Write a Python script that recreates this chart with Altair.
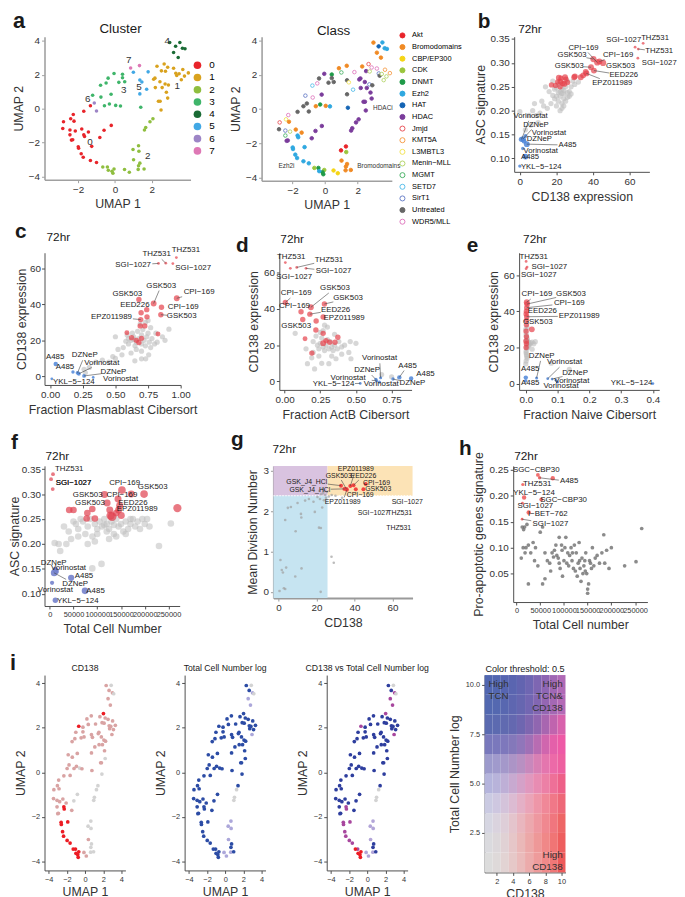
import math
import altair as alt
import pandas as pd

FONT = "Liberation Sans"
INK = "#1a1a1a"
AXC = "#4d4d4d"

# ================= panel a / i : UMAP embedding, grouped by cluster =================
c0_u1 = [-2.26, -1.69, -1.33, -2.79, -2.83, -2.40, -2.22, -2.44, -2.15, -2.44, -1.80, -1.69, -1.44,
         -1.65, -2.36, -2.29, -1.99, -1.97, -1.83, -1.72, -1.26, -1.33, -1.00, -0.82, -0.59, -0.20]
c0_u2 = [-0.35, -0.16, 0.17, -0.78, -1.18, -0.60, -0.74, -1.26, -1.32, -1.55, -1.20, -1.55, -1.38,
         -1.65, -1.86, -1.84, -2.25, -2.34, -2.67, -2.87, -2.23, -3.06, -3.18, -1.71, -1.28, -0.99]
c0_cls = ["WDR5/MLL", "Untreated", "Untreated", "Jmjd", "Untreated", "L3MBTL3", "Bromodomains", "SirT1",
          "Menin−MLL", "MGMT", "Bromodomains", "Ezh2", "Bromodomains", "Ezh2", "HDAC", "HDAC", "Ezh2", "Ezh2",
          "Ezh2", "Ezh2", "Ezh2", "Ezh2", "Ezh2", "HDAC", "HDAC", "HDAC"]
c0_i1 = "ppppppppppprprpprrrrrrrpgg"
c0_i2 = "bbbbbbbbbbbbbbbbbbbbbbbbbb"
c0_i3 = "bbbbbbbbbbbmbmbbmmmmmmmbbb"

c1_u1 = [2.28, 2.67, 2.86, 2.52, 2.74, 2.17, 2.10, 2.44, 2.72, 2.56, 2.79, 2.86, 2.36, 2.45, 2.50, 3.30,
         3.35, 3.48, 3.68, 3.98, 3.77, 3.60, 3.18, 2.19, 2.90]
c1_u2 = [2.50, 2.64, 2.44, 2.23, 2.21, 1.80, 1.74, 1.59, 1.45, 1.24, 0.97, 0.62, 0.43, 0.43, -0.08, 2.09,
         1.96, 2.06, 2.31, 2.11, 1.92, 1.70, 2.38, 1.24, 1.40]
c1_cls = ["Bromodomains", "Jmjd", "WDR5/MLL", "HDAC", "Menin−MLL", "HDAC", "HDAC", "HDAC", "SirT1", "HDAC",
          "HDAC", "HDAC", "HDAC", "HDAC", "HDAC", "SirT1", "Untreated", "Menin−MLL", "KMT5A", "KMT5A",
          "Menin−MLL", "Menin−MLL", "WDR5/MLL", "HDAC", "Untreated"]
c1_i1 = "prpppppppppgppgpppppppppp"
c1_i2 = "bbbbbbbbbbbbbbbbbbbbblbbb"
c1_i3 = "bmbbbbbbbbbbbbbbbbbbbmbbb"

c2_u1 = [2.06, 1.90, 1.67, 1.60, 0.98, 1.28, 1.30, 1.01, 1.28, 1.35, 1.26, 1.58, 0.52, 0.78, -0.05, -0.16,
         -0.41, -0.66, -0.36, -0.11]
c2_u2 = [-0.60, -0.78, -1.12, -1.26, -2.42, -2.19, -2.52, -3.02, -3.37, -3.22, -3.59, -3.57, -3.60, -3.76,
         -3.57, -3.70, -3.45, -3.45, -3.64, -3.82]
c2_cls = ["HDAC", "HDAC", "HDAC", "HDAC", "Akt", "Akt", "CDK", "Bromodomains", "Bromodomains", "Bromodomains",
          "Bromodomains", "Bromodomains", "CBP/EP300", "CBP/EP300", "CDK", "DNMT", "DNMT", "CDK", "Ezh2", "DNMT"]
c2_i1 = "gggggggpggggpprrrrrr"
c2_i2 = "bgggllllbblbllbbbbbb"
c2_i3 = "bgggllllbblbllrrmrrr"

c3_u1 = [-1.21, -0.78, -0.48, -0.37, -0.05, 0.41, 0.41, 0.21, 0.53, -0.21, -0.76, -0.57, -0.30, 0.04, 0.30, 1.40]
c3_u2 = [0.79, 1.38, 1.51, 1.80, 2.07, 2.03, 1.82, 1.55, 1.59, 0.85, 0.68, 0.17, 0.27, 0.19, 0.16, 0.08]
c3_cls = ["SirT1", "SETD7", "WDR5/MLL", "Untreated", "HDAC", "DNMT", "Untreated", "Untreated", "Untreated",
          "HDAC", "WDR5/MLL", "Bromodomains", "DNMT", "Bromodomains", "Ezh2", "HAT"]
c3_i1 = "pppprppppppppgpp"
c3_i2 = "bbbbbbbbbbbbbbbb"
c3_i3 = "bbbbmbbbbbbbbbbb"

c4_u1 = [2.97, 3.52, 3.29, 3.66, 3.80, 3.43, 3.18]
c4_u2 = [3.90, 3.91, 3.68, 3.57, 3.53, 3.02, 3.31]
c4_cls = ["Bromodomains", "Ezh2", "HAT", "Ezh2", "Ezh2", "Bromodomains", "Bromodomains"]
c4_i1 = "pgppgpp"
c4_i2 = "bgblgll"
c4_i3 = "bgbmgmm"

c5_u1 = [1.00, 1.80, 1.35, 1.46, 1.72, 1.35]
c5_u2 = [2.15, 2.17, 1.69, 1.57, 1.14, 0.87]
c5_cls = ["MGMT", "WDR5/MLL", "Untreated", "L3MBTL3", "SETD7", "Untreated"]
c5_i1 = "pppppp"
c5_i2 = "bbbbbb"
c5_i3 = "bbbbbb"

c6_u1 = [-1.12, -1.00]
c6_u2 = [0.33, -0.14]
c6_cls = ["Untreated", "Untreated"]
c6_i1, c6_i2, c6_i3 = "pp", "bb", "bb"

c7_u1 = [0.85, 1.33]
c7_u2 = [2.40, 2.54]
c7_cls = ["Bromodomains", "Bromodomains"]
c7_i1, c7_i2, c7_i3 = "pp", "bb", "bb"

CLUSTER_IDS = ["0", "1", "2", "3", "4", "5", "6", "7"]
CLUSTER_COLORS = ["#E8242A", "#D9A21E", "#8FBE3F", "#3FB56A", "#1A6B35", "#41A8E5", "#9D85C6", "#DE78B5"]
CLUSTER_LABEL_POS = [(-1.35, -2.0), (3.38, 1.34), (1.78, -2.79), (0.48, 1.10), (2.84, 3.97),
                     (1.30, 1.30), (-1.48, 0.56), (0.75, 2.87)]

CLASSES = ["Akt", "Bromodomains", "CBP/EP300", "CDK", "DNMT", "Ezh2", "HAT", "HDAC", "Jmjd", "KMT5A",
           "L3MBTL3", "Menin−MLL", "MGMT", "SETD7", "SirT1", "Untreated", "WDR5/MLL"]
CLASS_COLORS = ["#E8242A", "#F08A24", "#F5D515", "#9AC53C", "#1F9A48", "#2FA8E0", "#1464B4", "#7A3C9B",
                "#E8545A", "#F59E4C", "#F2E45A", "#B4D46A", "#4DB46A", "#59BEEA", "#6A80C8", "#666666", "#E07CC0"]
CLASS_OPEN = [False, False, False, False, False, False, False, False, True, True, True, True, True, True,
              True, False, True]
CLASS_NOTES = [("HDACi", 3.55, 0.08), ("Ezh2i", -2.37, -3.35), ("Bromodomains", 3.30, -3.31)]

I1_COL = {"r": "#EC1C24", "p": "#D9A3A3", "g": "#D3D3D3"}
I2_COL = {"b": "#2C4CA5", "l": "#ACA7DA", "g": "#D3D3D3"}
I3_COL = {"b": "#2E3E9E", "m": "#A8479E", "r": "#EC1C24", "l": "#B2A5D8", "g": "#D3D3D3"}
I_SHIFT = 0.65  # panel i embedding sits 0.65 UMAP-1 units left of panel a

# heatmap colours (rows: Total Cell Number log level 1 -> 10; columns CD138 level 1 -> 10)
HM_ROWS = [
    ["#DCDCDC", "#DED9D9", "#E2D3D3", "#E6C8C8", "#EABBBB", "#ECABAB", "#EE9B9B", "#F08A8A", "#F07777", "#EE5A5A"],
    ["#DADADE", "#DCD7DA", "#E0D1D4", "#E6C6C8", "#EAB8B8", "#ECA8A8", "#EE9898", "#F08888", "#F07575", "#EE5E5E"],
    ["#D6D6E2", "#DAD3DE", "#DECED8", "#E4C4CC", "#E9B6BE", "#ECA8AE", "#EE98A0", "#F08890", "#F0767E", "#EE6666"],
    ["#CACAE2", "#CEC7E0", "#D4C3DA", "#DCBBD2", "#E4B0C6", "#EAA4B8", "#EE96A8", "#F08898", "#F07888", "#EE6878"],
    ["#B4B4DC", "#B8B3DA", "#BEAFD6", "#C8A9D0", "#D4A1C8", "#E098BE", "#E88CB2", "#EC80A6", "#EE7098", "#EE6088"],
    ["#9C9ACC", "#A09ACC", "#A498CA", "#AC94C6", "#B890C2", "#C888BC", "#D880B4", "#E476AE", "#EC6AA8", "#EE60A0"],
    ["#7878BC", "#7A78BC", "#7E78BC", "#8478BA", "#9076BA", "#A070B6", "#B86CB2", "#D066AE", "#E460AA", "#EE5AA6"],
    ["#5A6AB0", "#5C6AB0", "#606AB0", "#6468B0", "#6E66B0", "#7E66B0", "#9066B0", "#A866B0", "#C064AE", "#D862AC"],
    ["#5268B0", "#5468B0", "#5867B0", "#5E66B0", "#6666B0", "#7266B2", "#8266B2", "#9466B3", "#A468B4", "#B46AB6"],
    ["#5066B0", "#5266B0", "#5665B0", "#5A65B0", "#6264B0", "#6E66B2", "#7E66B2", "#8E66B3", "#A068B4", "#B06AB6"],
]
HM_NOTES = [("High\nTCN", 0.98, 10.27, "left"), ("High\nTCN&\nCD138", 10.17, 10.27, "right"),
            ("High\nCD138", 10.17, 1.63, "right")]

# ================= panel b : CD138 expression vs ASC signature =================
b_gray = [(22, .240), (24, .235), (20, .230), (25, .250), (21, .220), (23, .215), (26, .228), (19, .245),
          (18, .232), (27, .240), (28, .250), (30, .255), (17, .215), (15, .205), (13, .210), (11, .195),
          (9, .190), (7, .200), (5, .190), (23, .205), (24, .210), (22, .200), (20, .210), (16, .240),
          (14, .250), (32, .260), (26, .262), (21, .255), (25, .220), (27, .230), (19, .225), (23, .245),
          (24, .225), (22, .230), (28, .235), (12, .220), (10, .175), (3, .160), (6, .170), (8, .215),
          (0, .198), (18, .262), (20, .248), (24, .243), (26, .238), (29, .262), (21, .238), (23, .236)]
b_hl = [(67.4, .341, "r", 8), (64.7, .329, "r", 8), (64.5, .310, "r", 8), (63.0, .333, "r", 8),
        (40.2, .308, "r", 40), (42.3, .301, "r", 40), (45.5, .300, "r", 40), (43.5, .303, "r", 35),
        (38.9, .291, "r", 35), (40.5, .284, "r", 35), (36.4, .278, "r", 35),
        (24.7, .270, "r", 35), (25.2, .266, "r", 30), (21.3, .269, "r", 35), (22.5, .268, "r", 30),
        (22.2, .261, "r", 35), (23.4, .257, "r", 30), (24.3, .256, "r", 35), (17.3, .254, "r", 30),
        (19.5, .253, "r", 30), (20.7, .260, "r", 30), (29.7, .270, "r", 35), (30.1, .272, "r", 35),
        (33.3, .270, "r", 35), (34.6, .274, "r", 35), (36.0, .281, "r", 35), (26.1, .259, "r", 30),
        (22.0, .250, "r", 30),
        (0.9, .140, "b", 30), (1.8, .141, "b", 30), (3.1, .147, "b", 15), (2.3, .136, "b", 25),
        (3.8, .130, "b", 35), (1.6, .121, "b", 12), (3.1, .104, "b", 35), (0.0, .084, "b", 12)]
b_labels = [("THZ531", 0, 73.9, .353), ("THZ531", 1, 76.2, .324), ("SGI−1027", 3, 56.8, .347),
            ("SGI−1027", 2, 76.2, .300), ("CPI−169", 5, 34.8, .332), ("GSK503", 4, 28.5, .317),
            ("CPI−169", 7, 53.7, .317), ("GSK503", 6, 55.0, .293), ("GSK503", 8, 27.0, .294),
            ("EED226", 9, 56.8, .274), ("EPZ011989", 10, 50.5, .257),
            ("Vorinostat", 28, 5.9, .189), ("DZNeP", 29, 8.8, .171), ("Vorinostat", 30, 15.9, .154),
            ("DZNeP", 31, 10.6, .140), ("A485", 32, 26.1, .128), ("Vorinostat", 33, 11.4, .116),
            ("A485", 34, 5.6, .103), ("YKL−5−124", 35, 11.7, .083)]

# ================= panel c : Fraction Plasmablast vs CD138 =================
c_gray = [(.62, 20), (.64, 22), (.66, 19), (.68, 21), (.70, 23), (.72, 20), (.74, 22), (.65, 17), (.60, 18),
          (.58, 19.5), (.63, 24), (.67, 25), (.70, 18), (.73, 17), (.76, 19), (.78, 21), (.80, 18), (.75, 24),
          (.71, 26), (.69, 29), (.73, 30), (.77, 27), (.82, 19), (.86, 22), (.91, 26.2), (.66, 15), (.70, 14),
          (.62, 13), (.55, 12), (.50, 10), (.45, 8), (.48, 11), (.52, 15), (.56, 16), (.60, 21), (.64, 20.5),
          (.59, 23), (.77, 16), (.81, 24), (.88, 20), (.30, 5), (.35, 8), (.26, 4), (.40, 9), (.75, 31),
          (.50, 22), (.755, 12), (.732, 9.8), (.70, 9.8), (.649, 8.7), (.27, 2)]
c_hl = [(.967, 65.8, "r", 8), (.886, 62.7, "r", 8), (.83, 62.6, "r", 8), (.94, 62.5, "r", 8),
        (.97, 43.3, "r", 35), (.853, 38.3, "r", 30), (.793, 40.4, "r", 35), (.68, 42.6, "r", 30),
        (.848, 34.2, "r", 30), (.74, 37.0, "r", 30), (.694, 31.5, "r", 30),
        (.697, 35.3, "r", 30), (.742, 33.0, "r", 30), (.69, 28, "r", 30), (.725, 28, "r", 30),
        (.588, 24.2, "r", 25), (.624, 21.5, "r", 30), (.70, 21.1, "r", 30), (.68, 18.8, "r", 30),
        (.826, 23.5, "r", 25), (.66, 20, "r", 30),
        (.043, 6.9, "b", 20), (.175, 2.5, "b", 12), (.21, 2.0, "b", 15), (.22, 1.5, "b", 15),
        (.26, 0.3, "b", 15), (.33, -0.5, "b", 8), (.013, -1.3, "b", 8)]
c_labels = [("THZ531", 1, .816, 67.6), ("THZ531", 0, 1.04, 69.9), ("SGI−1027", 2, .636, 61.7),
            ("SGI−1027", 3, 1.096, 60.3), ("GSK503", 6, .851, 50.3), ("CPI−169", 4, 1.141, 46.8),
            ("GSK503", 7, .591, 45.7), ("CPI−169", 5, 1.02, 38.3), ("EED226", 9, .649, 39.3),
            ("GSK503", 8, 1.008, 33.2), ("EPZ011989", 10, .47, 33.0),
            ("A485", 21, .038, 10.7), ("DZNeP", 23, .265, 11.7), ("A485", 22, .114, 5.3),
            ("Vorinostat", 24, .396, 7.7), ("DZNeP", 25, .485, 2.4), ("YKL−5−124", 27, .182, -2.9),
            ("Vorinostat", 26, .54, -1.6)]

# ================= panel d : Fraction ActB vs CD138 =================
d_gray = [(.074, 26.5), (.20, 22), (.23, 20), (.25, 21), (.27, 19), (.29, 20), (.31, 18), (.33, 19), (.35, 20),
          (.30, 23), (.32, 22), (.26, 24), (.24, 18), (.28, 17), (.34, 17), (.37, 18), (.40, 19), (.42, 20),
          (.38, 22), (.22, 25), (.25, 27), (.30, 30), (.28, 31), (.465, 12.5), (.16, 9.8), (.21, 6.9),
          (.31, 9.8), (.36, 12.5), (.26, 10), (.19, 13), (.24, 14), (.33, 14), (.40, 15), (.45, 16),
          (.68, 3.8), (.75, 2.5), (.46, 22), (.50, 21), (.20, 16), (.15, 18), (.35, 26), (.27, 28)]
d_hl = [(.005, 65.6, "r", 8), (.085, 62.9, "r", 8), (.04, 62.4, "r", 8), (.15, 62.4, "r", 8),
        (.005, 43.6, "r", 30), (.115, 38.4, "r", 30), (.184, 40.9, "r", 35), (.279, 42.7, "r", 30),
        (.177, 37.1, "r", 30), (.27, 35.5, "r", 30), (.127, 34.2, "r", 30),
        (.221, 33.3, "r", 30), (.219, 28.4, "r", 30), (.27, 26.5, "r", 30), (.143, 23.5, "r", 25),
        (.373, 24.4, "r", 30), (.27, 21.1, "r", 35), (.316, 21.6, "r", 30), (.353, 21.6, "r", 30),
        (.191, 15.6, "r", 30), (.29, 22.5, "r", 30),
        (.673, 2.0, "b", 10), (.804, 2.2, "b", 20), (.64, 1.0, "b", 12), (.887, 1.6, "b", 20),
        (.645, 0.3, "b", 10), (.76, 1.3, "b", 12), (.53, -1.1, "b", 8), (.665, -0.4, "b", 10)]
d_labels = [("THZ531", 0, .046, 68.9), ("THZ531", 1, .311, 67.1), ("SGI−1027", 2, .067, 57.5),
            ("SGI−1027", 3, .343, 60.7), ("CPI−169", 4, .081, 48.7), ("CPI−169", 5, .069, 41.5),
            ("GSK503", 6, .353, 51.5), ("GSK503", 7, .445, 45.8), ("EED226", 8, .357, 39.5),
            ("EPZ011989", 9, .417, 34.9), ("GSK503", 10, .081, 30.7),
            ("Vorinostat", 21, .666, 12.7), ("A485", 22, .862, 8.7), ("DZNeP", 23, .578, 6.2),
            ("A485", 24, .988, 4.2), ("Vorinostat", 25, .445, 2.0), ("DZNeP", 26, .896, -1.1),
            ("YKL−5−124", 27, .343, -1.5), ("Vorinostat", 28, .677, -1.5)]

# ================= panel e : Fraction Naive vs CD138 =================
e_gray = [(0, 10.9), (.004, 14), (.002, 16), (.001, 18), (.003, 19.5), (.008, 21), (.01, 22), (.02, 23),
          (.03, 23.2), (.015, 22.5), (.005, 24), (.002, 26.5), (.001, 27.5), (.004, 25), (.006, 20),
          (.001, 17), (.003, 21), (.002, 24), (.008, 23), (.012, 21.5), (0, 30), (.004, 31), (.08, 11.3),
          (.137, 7.8), (.02, 19), (.025, 22), (.001, 12.5), (.003, 15)]
e_hl = [(.001, 67.6, "r", 8), (.004, 64.5, "r", 8), (.001, 63.6, "r", 8), (.003, 45.0, "r", 35),
        (.004, 44.0, "r", 35), (.003, 42.0, "r", 30), (.002, 40.0, "r", 30), (.003, 37.0, "r", 30),
        (.002, 35.0, "r", 30),
        (.019, 30, "r", 35), (.001, 29, "r", 30), (.002, 26, "r", 30), (.001, 23.5, "r", 35),
        (.002, 22, "r", 30), (.001, 20, "r", 30), (.002, 32.5, "r", 30), (.001, 38.5, "r", 30),
        (0, 3.3, "b", 20), (.034, 3.1, "b", 10), (.069, 2.7, "b", 8), (.083, 2.5, "b", 8),
        (.095, 1.8, "b", 8), (.10, 0.8, "b", 8), (0, 1.5, "b", 12), (.40, 0.0, "b", 8)]
e_labels = [("THZ531", 0, .025, 70), ("SGI−1027", 1, .074, 64.5), ("SGI−1027", 2, .041, 60),
            ("CPI−169", 3, .035, 49.5), ("GSK503", 4, .142, 49.5), ("CPI−169", 5, .137, 44.5),
            ("EED226", 6, .052, 40.2), ("EPZ011989", 7, .168, 37.3), ("GSK503", 8, .038, 34.2),
            ("A485", 17, .014, 8.0), ("DZNeP", 18, .05, 15.3), ("Vorinostat", 19, .122, 11.8),
            ("DZNeP", 20, .155, 5.6), ("Vorinostat", 21, .145, 1.3), ("Vorinostat", 22, .111, -1.3),
            ("A485", 23, .014, 0.2), ("YKL−5−124", 24, .333, 0.2)]

# ================= panel f : Total Cell Number vs ASC signature =================
f_gray = [(30000, .235), (40000, .225), (55000, .240), (60000, .230), (70000, .245), (75000, .220),
          (80000, .235), (85000, .250), (90000, .215), (95000, .240), (100000, .230), (105000, .245),
          (110000, .235), (115000, .250), (120000, .240), (125000, .230), (130000, .245), (135000, .220),
          (140000, .250), (145000, .235), (150000, .240), (155000, .225), (160000, .245), (165000, .230),
          (170000, .240), (175000, .250), (180000, .235), (185000, .245), (190000, .230), (200000, .240),
          (210000, .235), (255000, .241), (230000, .196), (109000, .160), (89600, .151), (18750, .200),
          (10400, .202), (22000, .186), (65000, .250), (50000, .245), (45000, .210), (35000, .200),
          (100000, .220), (95000, .205), (120000, .225), (140000, .215), (160000, .220), (125000, .210),
          (80000, .200), (60000, .215), (170000, .250), (195000, .250), (205000, .250), (115000, .238),
          (135000, .238)]
f_hl = [(6900, .340, "r", 15), (2800, .330, "r", 15), (6300, .310, "r", 15), (152000, .308, "r", 60),
        (171500, .300, "r", 50), (198600, .300, "r", 60), (115300, .299, "r", 50), (120800, .282, "r", 50),
        (143750, .290, "r", 50), (147200, .277, "r", 50),
        (126400, .268, "r", 50), (131250, .255, "r", 80), (128000, .257, "r", 70), (89600, .270, "r", 45),
        (79200, .262, "r", 45), (77800, .251, "r", 45), (95100, .251, "r", 45), (41000, .268, "r", 45),
        (50000, .268, "r", 45), (150700, .257, "r", 50), (268750, .272, "r", 70), (145000, .268, "r", 50),
        (140000, .262, "r", 45),
        (11800, .148, "b", 35), (13500, .145, "b", 30), (9300, .142, "b", 45), (4900, .122, "b", 18),
        (45100, .132, "b", 40), (74300, .106, "b", 45), (11800, .087, "b", 30)]
f_labels = [("THZ531", 0, 41000, .351), ("SGI−1027", 1, 50000, .322), ("SGI−1027", 2, 50000, .322),
            ("CPI−169", 3, 157600, .322), ("CPI−169", 4, 152000, .299), ("GSK503", 5, 216700, .315),
            ("GSK503", 6, 79900, .299), ("GSK503", 7, 84700, .282), ("EED226", 8, 175000, .282),
            ("EPZ011989", 9, 184000, .271),
            ("DZNeP", 23, 8300, .162), ("Vorinostat", 24, 39600, .152), ("DZNeP", 25, 53500, .119),
            ("Vorinostat", 26, 11800, .107), ("A485", 27, 72200, .136), ("A485", 28, 96500, .106),
            ("YKL−5−124", 29, 59000, .086)]

# ================= panel g : CD138 vs Mean Division Number =================
g_gray = [(0.5, .02), (2.8, .09), (3.5, .07), (22.2, 0.0), (2.3, .48), (1.7, .54), (4.0, .60), (12.1, .58),
          (8.8, .38), (1.0, .79), (27.9, .87), (29.1, .72), (3.5, 1.78), (4.9, 2.08), (11.8, 1.93), (12.0, 1.84),
          (19.1, 1.98), (21.3, 1.59), (22.3, 1.58), (18.4, 2.23), (23.0, 2.09), (23.9, 2.27), (20.5, 2.35),
          (22.5, 2.42), (23.5, 2.45), (24.5, 2.40), (21.8, 2.30), (25.0, 2.33), (26.5, 2.36), (28.0, 2.40),
          (30.0, 2.38), (16.0, 2.30), (14.0, 2.26), (10.0, 2.20), (24.2, 2.50), (23.0, 2.55), (21.5, 2.50),
          (25.5, 2.47), (33.5, 2.33), (6.5, 2.10), (9.0, 1.50)]
g_hl = [(32.9, 2.63, "r", 16), (34.7, 2.55, "r", 16), (35.7, 2.55, "r", 16), (37.8, 2.62, "r", 16),
        (39.5, 2.64, "r", 16), (40.7, 2.54, "r", 16), (44.7, 2.54, "r", 16), (45.9, 2.67, "r", 16),
        (36.0, 2.53, "r", 16),
        (62.0, 2.20, "f", 4), (57.5, 1.97, "f", 4), (66.5, 1.90, "f", 4), (63.5, 1.63, "f", 4)]
g_labels = [("EPZ011989", 3, 40.7, 3.04), ("GSK503", 2, 31.7, 2.88), ("EED226", 4, 44.7, 2.88),
            ("GSK_J4_HCl", 0, 14.9, 2.73), ("CPI−169", 7, 51.6, 2.70), ("GSK503", 6, 52.5, 2.55),
            ("GSK_J4_HCl", 1, 16.5, 2.53), ("CPI−169", 5, 43.0, 2.39), ("EPZ011989", 8, 33.8, 2.23),
            ("SGI−1027", 9, 67.8, 2.23), ("SGI−1027", 10, 49.9, 1.94), ("THZ531", 11, 63.8, 1.94),
            ("THZ531", 12, 63.3, 1.59)]
G_CD138_CUT = 25.8
G_DIV_CUT = 2.38
G_REGION_COLORS = ["#D9C3E0", "#FCE3B6", "#C6E4F1"]

# ================= panel h : Total Cell number vs Pro-apoptotic signature =================
h_gray = [(12000, .140), (15000, .135), (17000, .140), (22000, .145), (20000, .100), (14000, .100),
          (10000, .080), (18000, .090), (25000, .105), (30000, .090), (35000, .110), (45000, .065),
          (40000, .100), (50000, .130), (55000, .140), (60000, .090), (65000, .075), (70000, .070),
          (72000, .055), (75000, .090), (78000, .082), (80000, .095), (83000, .105), (85000, .085),
          (88000, .080), (90000, .070), (92000, .060), (95000, .105), (97000, .045), (100000, .075),
          (102000, .100), (104000, .120), (106000, .070), (108000, .090), (110000, .065), (112000, .085),
          (115000, .100), (117000, .075), (120000, .060), (122000, .105), (124000, .055), (126000, .090),
          (128000, .045), (130000, .070), (132000, .110), (134000, .060), (136000, .035), (138000, .080),
          (140000, .050), (142000, .065), (144000, .075), (146000, .090), (148000, .050), (150000, .020),
          (152000, .030), (154000, .075), (156000, .070), (158000, .060), (160000, .100), (163000, .065),
          (166000, .080), (170000, .085), (175000, .070), (180000, .090), (184000, .125), (186000, .070),
          (190000, .095), (195000, .060), (200000, .100), (228000, .065), (252000, .073), (264000, .137),
          (55000, .030), (60000, .040), (96000, .095), (118000, .090), (133000, .075), (145000, .055),
          (150000, .012), (90000, .120), (25000, .030), (38000, .075)]
h_hl = [(45100, .2405, "r", 15), (48600, .235, "r", 12), (76400, .234, "r", 20), (13200, .222, "r", 10),
        (16000, .197, "r", 20), (52100, .193, "r", 15), (12500, .186, "r", 8), (25700, .168, "r", 20),
        (11800, .155, "r", 8)]
h_labels = [("SGC−CBP30", 0, 41700, .250), ("A485", 1, 111000, .228), ("THZ531", 3, 43700, .222),
            ("YKL−5−124", 4, 36800, .206), ("SGC−CBP30", 5, 99300, .193), ("SGI−1027", 6, 39600, .180),
            ("I−BET−762", 7, 66000, .165), ("SGI−1027", 8, 71500, .146)]


# ================================ helpers ================================
def ax(title, values, fmt, lab=10, tit=12.5, dc=AXC, dw=1.0, tpad=4, lpad=2, overlap=True):
    return alt.Axis(title=title, values=values, format=fmt, labelFontSize=lab, titleFontSize=tit,
                    domainColor=dc, domainWidth=dw, tickColor=dc, tickSize=3, labelColor="#333333",
                    titleColor="#333333", titleFontWeight="normal", grid=False, labelPadding=lpad,
                    titlePadding=tpad, labelFont=FONT, titleFont=FONT, labelFlush=False,
                    labelOverlap=overlap)


def txt(t, x, y, fs, bold=False, align="left", color=INK):
    return alt.Chart(pd.DataFrame({"t": [t]})).mark_text(
        fontSize=fs, font=FONT, fontWeight="bold" if bold else "normal", align=align,
        baseline="alphabetic", color=color).encode(x=alt.value(x), y=alt.value(y), text="t:N")


def edge(px, py, lx, ly, t, fs, xdom, ydom, w, h):
    sx = w / (xdom[1] - xdom[0])
    sy = h / (ydom[1] - ydom[0])
    PX, PY = (px - xdom[0]) * sx, (ydom[1] - py) * sy
    LX, LY = (lx - xdom[0]) * sx, (ydom[1] - ly) * sy
    hw = 0.28 * fs * len(t) + 1.5
    hh = 0.5 * fs + 1
    dx, dy = PX - LX, PY - LY
    if abs(dx) <= hw and abs(dy) <= hh:
        return None
    k = min(hw / abs(dx) if dx else 1e9, hh / abs(dy) if dy else 1e9)
    EX, EY = LX + k * dx, LY + k * dy
    if math.hypot(PX - EX, PY - EY) < 5:
        return None
    return xdom[0] + EX / sx, ydom[1] - EY / sy


def scatter(letter, lpos, tpos, gray, hl, labels, xdom, ydom, w, h, xax, yax, red="#E5414C",
            blue="#4F86D8", gcol="#BDBDBD", gop=0.6, gsize=28, rop=0.7, bop=0.85, fs=8, under=None):
    X = alt.X("x:Q", scale=alt.Scale(domain=xdom, nice=False, zero=False), axis=xax)
    Y = alt.Y("y:Q", scale=alt.Scale(domain=ydom, nice=False, zero=False), axis=yax)
    gdf = pd.DataFrame({"x": [p[0] for p in gray], "y": [p[1] for p in gray]})
    cmap = {"r": red, "b": blue, "f": "#D6D6D6"}
    omap = {"r": rop, "b": bop, "f": 1.0}
    hdf = pd.DataFrame({"x": [p[0] for p in hl], "y": [p[1] for p in hl],
                        "c": [cmap[p[2]] for p in hl], "o": [omap[p[2]] for p in hl],
                        "s": [p[3] for p in hl]})
    layers = []
    if under is not None:
        layers += under(X, Y)
    layers.append(alt.Chart(gdf).mark_circle(color=gcol, opacity=gop, size=gsize).encode(x=X, y=Y))
    layers.append(alt.Chart(hdf).mark_circle().encode(
        x=X, y=Y, color=alt.Color("c:N", scale=None), opacity=alt.Opacity("o:Q", scale=None),
        size=alt.Size("s:Q", scale=None)))
    seg = []
    for (t, i, lx, ly) in labels:
        e = edge(hl[i][0], hl[i][1], lx, ly, t, fs, xdom, ydom, w, h)
        if e:
            seg.append({"x": hl[i][0], "y": hl[i][1], "x2": e[0], "y2": e[1]})
    if seg:
        layers.append(alt.Chart(pd.DataFrame(seg)).mark_rule(color="#444444", strokeWidth=0.6).encode(
            x=X, y=Y, x2="x2:Q", y2="y2:Q"))
    ldf = pd.DataFrame({"x": [l[2] for l in labels], "y": [l[3] for l in labels], "t": [l[0] for l in labels]})
    layers.append(alt.Chart(ldf).mark_text(fontSize=fs, font=FONT, color=INK).encode(x=X, y=Y, text="t:N"))
    layers.append(txt(letter, lpos[0], lpos[1], 21, bold=True))
    layers.append(txt("72hr", tpos[0], tpos[1], 12))
    return alt.layer(*layers).properties(width=w, height=h)


IND = dict(color="independent", fill="independent", stroke="independent", opacity="independent",
           size="independent")


def hrow(*charts, spacing):
    return alt.hconcat(*charts, spacing=spacing).resolve_scale(**IND).resolve_legend(**IND)


def vcol(*charts, spacing):
    return alt.vconcat(*charts, spacing=spacing).resolve_scale(**IND).resolve_legend(**IND)


# ================================ UMAP data frame ================================
groups = [(c0_u1, c0_u2, c0_cls, c0_i1, c0_i2, c0_i3), (c1_u1, c1_u2, c1_cls, c1_i1, c1_i2, c1_i3),
          (c2_u1, c2_u2, c2_cls, c2_i1, c2_i2, c2_i3), (c3_u1, c3_u2, c3_cls, c3_i1, c3_i2, c3_i3),
          (c4_u1, c4_u2, c4_cls, c4_i1, c4_i2, c4_i3), (c5_u1, c5_u2, c5_cls, c5_i1, c5_i2, c5_i3),
          (c6_u1, c6_u2, c6_cls, c6_i1, c6_i2, c6_i3), (c7_u1, c7_u2, c7_cls, c7_i1, c7_i2, c7_i3)]
rows = []
for k, (u1, u2, cl, a1, a2, a3) in enumerate(groups):
    for j in range(len(u1)):
        rows.append({"u1": u1[j], "u2": u2[j], "cluster": CLUSTER_IDS[k], "cls": cl[j],
                     "i1": I1_COL[a1[j]], "i2": I2_COL[a2[j]], "i3": I3_COL[a3[j]]})
umap_df = pd.DataFrame(rows)

# ---------------- panel a: Cluster ----------------
A_XDOM, A_YDOM = [-3.82, 4.10], [-4.20, 4.25]
AW, AH = 148, 145
ax_a = ax("UMAP 1", [-2, 0, 2], "d", dc="#A0A0A0", dw=1.6, tpad=3)
ay_a = ax("UMAP 2", [-4, -2, 0, 2, 4], "d", dc="#A0A0A0", dw=1.6, tpad=3)
AX_ = alt.X("u1:Q", scale=alt.Scale(domain=A_XDOM, nice=False, zero=False), axis=ax_a)
AY_ = alt.Y("u2:Q", scale=alt.Scale(domain=A_YDOM, nice=False, zero=False), axis=ay_a)
clu_pts = alt.Chart(umap_df).mark_circle(size=13, opacity=1).encode(
    x=AX_, y=AY_,
    color=alt.Color("cluster:N", scale=alt.Scale(domain=CLUSTER_IDS, range=CLUSTER_COLORS),
                    legend=alt.Legend(title=None, orient="none", legendX=AW + 2, legendY=24, labelFontSize=10,
                                      symbolSize=60, symbolType="circle", rowPadding=2.4,
                                      labelFont=FONT, labelOffset=7, padding=0, symbolStrokeWidth=0)))
clu_lab_df = pd.DataFrame({"u1": [p[0] for p in CLUSTER_LABEL_POS], "u2": [p[1] for p in CLUSTER_LABEL_POS],
                           "t": CLUSTER_IDS})
clu_lab = alt.Chart(clu_lab_df).mark_text(fontSize=10, font=FONT, color="#333333").encode(
    x=AX_, y=AY_, text="t:N")
panel_a1 = alt.layer(clu_pts, clu_lab, txt("a", -32, -9, 22, bold=True),
                     txt("Cluster", 77, -4, 13.5, align="center")).properties(width=AW, height=AH)

# ---------------- panel a: Class ----------------
C_XDOM = [-3.90, 4.10]
CW, CH = 132, 146
CX_ = alt.X("u1:Q", scale=alt.Scale(domain=C_XDOM, nice=False, zero=False), axis=ax_a)
CY_ = alt.Y("u2:Q", scale=alt.Scale(domain=A_YDOM, nice=False, zero=False), axis=ay_a)
class_fill = [("white" if o else c) for c, o in zip(CLASS_COLORS, CLASS_OPEN)]
leg_c = dict(title=None, orient="none", legendX=CW + 7, legendY=-5, labelFontSize=7.5, symbolSize=26,
             symbolType="circle", rowPadding=1.8, labelFont=FONT, labelOffset=6, padding=0, symbolStrokeWidth=1)
cls_pts = alt.Chart(umap_df).mark_point(size=13, opacity=1, strokeWidth=0.9, shape="circle").encode(
    x=CX_, y=CY_,
    fill=alt.Fill("cls:N", scale=alt.Scale(domain=CLASSES, range=class_fill), legend=alt.Legend(**leg_c)),
    stroke=alt.Stroke("cls:N", scale=alt.Scale(domain=CLASSES, range=CLASS_COLORS), legend=alt.Legend(**leg_c)))
note_df = pd.DataFrame({"u1": [n[1] for n in CLASS_NOTES], "u2": [n[2] for n in CLASS_NOTES],
                        "t": [n[0] for n in CLASS_NOTES]})
cls_notes = alt.Chart(note_df).mark_text(fontSize=6.5, font=FONT, color="#333333").encode(
    x=CX_, y=CY_, text="t:N")
panel_a2 = alt.layer(cls_pts, cls_notes, txt("Class", 73, -2, 13.5, align="center")).properties(
    width=CW, height=CH)

# ---------------- panel b ----------------
panel_b = scatter("b", (-37, -9), (4, -4), b_gray, b_hl, b_labels, [-3.1, 70.8], [0.072, 0.355], 137, 137,
                  ax("CD138 expression", [0, 20, 40, 60], "d"),
                  ax("ASC signature", [0.10, 0.15, 0.20, 0.25, 0.30, 0.35], ".2f", tpad=3), fs=7.8)

# ---------------- row 2 ----------------
panel_c = scatter("c", (-30, -15), (2, -12), c_gray, c_hl, c_labels, [-0.043, 1.0], [-4.7, 68.5], 138, 134,
                  ax("Fraction Plasmablast Cibersort", [0, 0.25, 0.5, 0.75, 1.0], ".2f"),
                  ax("CD138 expression", [0, 20, 40, 60], "d", tpad=1, lpad=1))
panel_d = scatter("d", (-44, -1), (1, -10), d_gray, d_hl, d_labels, [-0.037, 0.89], [-4.7, 71], 134, 139,
                  ax("Fraction ActB Cibersort", [0, 0.25, 0.5, 0.75], ".2f"),
                  ax("CD138 expression", [0, 20, 40, 60], "d", tpad=3))
panel_e = scatter("e", (-53, -1), (4, -10), e_gray, e_hl, e_labels, [-0.021, 0.42], [-3.5, 72.4], 142, 139,
                  ax("Fraction Naive Cibersort", [0, 0.1, 0.2, 0.3, 0.4], ".1f"),
                  ax("CD138 expression", [0, 20, 40, 60], "d", tpad=3))

# ---------------- row 3 ----------------
panel_f = scatter("f", (-34, -17), (1, -6), f_gray, f_hl, f_labels, [-11000, 273600], [0.0756, 0.3566], 137, 142,
                  ax("Total Cell Number", [0, 50000, 100000, 150000, 200000, 250000], "d", lab=7.5,
                     overlap=False),
                  ax("ASC signature", [0.10, 0.15, 0.20, 0.25, 0.30, 0.35], ".2f", tpad=0, lpad=1),
                  red="#E0404E", blue="#7482CC", gsize=45, gop=0.55, bop=0.9)

G_XDOM, G_YDOM = [-2.7, 70.6], [-0.155, 3.12]


def g_under(X, Y):
    reg = pd.DataFrame({"x": [G_XDOM[0], G_CD138_CUT, G_XDOM[0]], "x2": [G_CD138_CUT, G_XDOM[1], G_CD138_CUT],
                        "y": [G_DIV_CUT, G_DIV_CUT, G_YDOM[0]], "y2": [G_YDOM[1], G_YDOM[1], G_DIV_CUT],
                        "c": G_REGION_COLORS})
    rects = alt.Chart(reg).mark_rect(opacity=1).encode(x=X, y=Y, x2="x2:Q", y2="y2:Q",
                                                       color=alt.Color("c:N", scale=None))
    cut = pd.DataFrame({"x": [G_XDOM[0]], "x2": [G_XDOM[1]], "y": [G_DIV_CUT]})
    hline = alt.Chart(cut).mark_rule(color="#FFFFFF", strokeDash=[1.5, 1.5], strokeWidth=1).encode(
        x=X, x2="x2:Q", y=Y)
    return [rects, hline]


panel_g = scatter("g", (-43, -20), (-1, -13), g_gray, g_hl, g_labels, G_XDOM, G_YDOM, 141, 134,
                  ax("CD138", [0, 20, 40, 60], "d", dc="#9A9A9A", dw=2),
                  ax("Mean Division Number", [0, 1, 2, 3], "d", dc="#9A9A9A", dw=2),
                  red="#F23B3B", gcol="#A0A0A0", gsize=7, gop=0.7, rop=0.95, fs=7, under=g_under)
panel_h = scatter("h", (-55, -11), (1, -6), h_gray, h_hl, h_labels, [-7000, 276000], [-0.005, 0.258], 136, 138,
                  ax("Total Cell number", [0, 50000, 100000, 150000, 200000, 250000], "d", lab=7.5,
                     overlap=False),
                  ax("Pro-apoptotic genes signature", [0.05, 0.10, 0.15, 0.20, 0.25], ".2f"),
                  red="#F06060", gcol="#6E6E6E", gsize=14, gop=0.8, rop=0.9)

# ---------------- row 4 : panel i ----------------
IW, IH = 82, 198
I_XDOM, I_YDOM = [-4.47, 4.44], [-4.41, 4.37]


def umap_i(title, col, letter=False):
    X = alt.X("ui:Q", scale=alt.Scale(domain=I_XDOM, nice=False, zero=False),
              axis=ax("UMAP 1", [-4, -2, 0, 2, 4], "d", lab=7.5, tpad=3))
    Y = alt.Y("u2:Q", scale=alt.Scale(domain=I_YDOM, nice=False, zero=False),
              axis=ax("UMAP 2", [-4, -2, 0, 2, 4], "d", lab=7.5, tpad=4))
    pts = alt.Chart(umap_df).transform_calculate(ui=f"datum.u1 - {I_SHIFT}").mark_circle(
        size=14, opacity=1).encode(x=X, y=Y, color=alt.Color(col + ":N", scale=None))
    layers = [pts, txt(title, IW / 2, -4, 8.8, align="center")]
    if letter:
        layers.append(txt("i", -35, -5, 22, bold=True))
    return alt.layer(*layers).properties(width=IW, height=IH)


panel_i1 = umap_i("CD138", "i1", letter=True)
panel_i2 = umap_i("Total Cell Number log", "i2")
panel_i3 = umap_i("CD138 vs Total Cell Number log", "i3")

hm_rows = []
for r, row in enumerate(HM_ROWS):
    for c, colr in enumerate(row):
        hm_rows.append({"x": c + 0.5, "x2": c + 1.5, "y": r + 0.5, "y2": r + 1.5, "col": colr})
hm_df = pd.DataFrame(hm_rows)
HX = alt.X("x:Q", scale=alt.Scale(domain=[0.5, 10.5], nice=False, zero=False),
           axis=ax("CD138", [2, 4, 6, 8, 10], "d", lab=7.5, tpad=3))
HY = alt.Y("y:Q", scale=alt.Scale(domain=[0.5, 10.5], nice=False, zero=False),
           axis=ax("Total Cell Number log", [2.5, 5.0, 7.5, 10.0], ".1f", lab=7.5, tpad=4))
hm = alt.Chart(hm_df).mark_rect().encode(x=HX, x2="x2:Q", y=HY, y2="y2:Q", color=alt.Color("col:N", scale=None))
note_layers = []
for (t, x, y, al) in HM_NOTES:
    nd = pd.DataFrame({"x": [x], "y": [y], "t": [t]})
    note_layers.append(alt.Chart(nd).mark_text(fontSize=10, font=FONT, color="#333333", align=al,
                                               baseline="top", lineBreak="\n", lineHeight=12).encode(
        x=HX, y=HY, text="t:N"))
panel_i4 = alt.layer(hm, *note_layers, txt("Color threshold: 0.5", 41, -3, 9.2, align="center")).properties(
    width=82, height=200)

# ================================ layout ================================
row1 = hrow(hrow(panel_a1, panel_a2, spacing=14), panel_b, spacing=12)
row2 = hrow(hrow(panel_c, panel_d, spacing=21), panel_e, spacing=32)
row3 = hrow(hrow(panel_f, panel_g, spacing=50), panel_h, spacing=36)
row4 = hrow(hrow(panel_i1, panel_i2, panel_i3, spacing=29), panel_i4, spacing=19)

top = vcol(row1, row2, spacing=-6)
bottom = vcol(row3, row4, spacing=18)
chart = vcol(top, bottom, spacing=8).properties(
    padding={"left": 0, "top": -4, "right": 0, "bottom": 0}
).configure_view(stroke=None).configure_legend(labelFont=FONT).configure_text(font=FONT)

chart.save("out.html", embed_options={"renderer": "svg", "actions": False})
